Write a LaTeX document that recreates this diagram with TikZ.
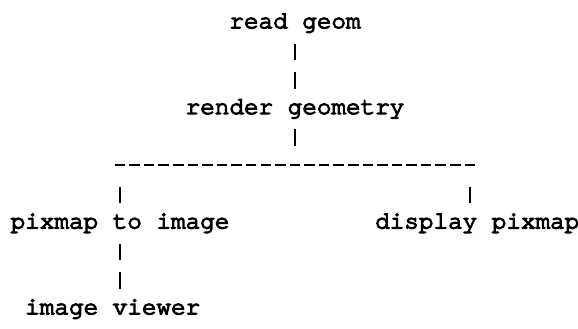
\documentclass[tikz,border=0pt]{standalone}
\usepackage{fontspec}
\usetikzlibrary{calc}
\newfontfamily\cour{texgyrecursor-regular.otf}[FakeBold=5]
\tikzset{
  lbl/.style={anchor=base west, inner sep=0pt, outer sep=0pt,
    font=\cour\fontsize{24.3pt}{28.6pt}\selectfont},
  vbar/.style={line width=2pt, black},
  busline/.style={line width=2pt, black, dash pattern=on 10.5pt off 4.08pt},
}
\begin{document}
\begin{tikzpicture}
\fill[white] (0,0) rectangle (578pt,-329pt);
\useasboundingbox (0,0) rectangle (578pt,-329pt);
\node[lbl] (rg)   at (229.38pt,-28.2pt)  {read geom};
\node[lbl] (rgeo) at (185.64pt,-114.0pt) {render geometry};
\node[lbl] (pti)  at (10.68pt,-228.4pt)  {pixmap to image};
\node[lbl] (dp)   at (375.18pt,-228.4pt) {display pixmap};
\node[lbl] (iv)   at (25.26pt,-314.2pt)  {image viewer};
\coordinate (busL) at (112.68pt,-165.2pt);
\coordinate (busR) at (477.18pt,-165.2pt);
\coordinate (dpt) at ($(dp.base west)+(94.77pt,0)$);
% read geom -> render geometry
\draw[vbar, dash pattern=on 16.5pt off 12.1pt] ($(rg.base)+(0,-15.35pt)$) -- ($(rgeo.base)+(0,25.35pt)$);
% render geometry -> bus
\draw[vbar, dash pattern=on 16.5pt off 60pt] ($(rgeo.base)+(0,-15.35pt)$) -- (rgeo.base |- busL);
% bus
\draw[busline] ([xshift=2.04pt]busL) -- ([xshift=-2.04pt]busR);
% bus -> pixmap to image
\draw[vbar, dash pattern=on 16.5pt off 21.35pt, dash phase=16.5pt] (pti.base |- busL) -- ($(pti.base)+(0,25.35pt)$);
% bus -> display pixmap
\draw[vbar, dash pattern=on 16.5pt off 21.35pt, dash phase=16.5pt] (dpt |- busL) -- ($(dpt)+(0,25.35pt)$);
% pixmap to image -> image viewer
\draw[vbar, dash pattern=on 16.5pt off 12.1pt] ($(pti.base)+(0,-15.35pt)$) -- ($(pti.base |- iv.base)+(0,25.35pt)$);
\end{tikzpicture}
\end{document}
